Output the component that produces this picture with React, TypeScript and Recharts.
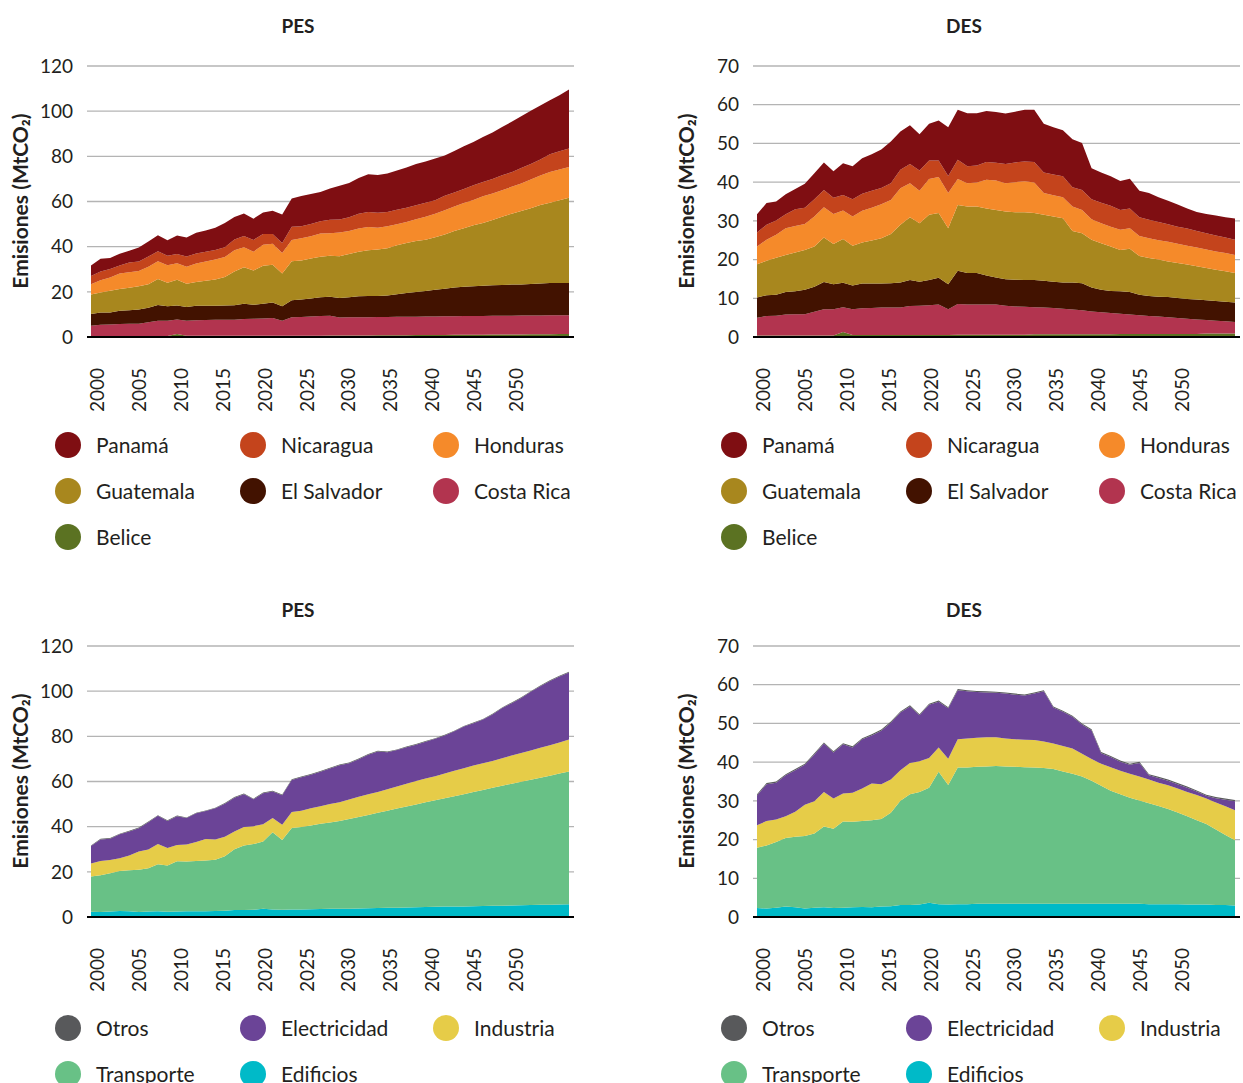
import React from "react";
import { AreaChart, Area, XAxis, YAxis, CartesianGrid } from "recharts";

const years = [
  2000, 2001, 2002, 2003, 2004, 2005, 2006, 2007, 2008, 2009, 2010, 2011, 2012, 2013, 2014, 2015, 2016,
  2017, 2018, 2019, 2020, 2021, 2022, 2023, 2024, 2025, 2026, 2027, 2028, 2029, 2030, 2031, 2032, 2033,
  2034, 2035, 2036, 2037, 2038, 2039, 2040, 2041, 2042, 2043, 2044, 2045, 2046, 2047, 2048, 2049, 2050,
];
const labelYears = [2000, 2005, 2010, 2015, 2020, 2025, 2030, 2035, 2040, 2045, 2050];

// historical 2000-2020, by country (MtCO2)
const histBelice = [0.4, 0.4, 0.4, 0.4, 0.4, 0.4, 0.4, 0.4, 0.4, 1.3, 0.5, 0.5, 0.5, 0.5, 0.5, 0.5, 0.5, 0.5, 0.5, 0.5, 0.5];
const histCostaRica = [4.6, 5.0, 5.1, 5.4, 5.5, 5.5, 6.1, 6.8, 6.8, 6.4, 6.7, 6.9, 7.0, 7.1, 7.1, 7.1, 7.5, 7.6, 7.7, 7.9, 6.7];
const histElSalvador = [5.2, 5.4, 5.4, 5.8, 5.9, 6.3, 6.5, 7.0, 6.4, 6.3, 6.1, 6.4, 6.3, 6.2, 6.3, 6.5, 6.7, 6.2, 6.5, 6.9, 6.4];
const histGuatemala = [8.6, 8.9, 9.6, 9.6, 10.0, 10.3, 10.4, 11.5, 10.4, 11.3, 10.3, 10.6, 11.1, 11.7, 12.7, 14.9, 16.2, 15.1, 16.9, 16.7, 14.5];
const histHonduras = [4.6, 5.4, 5.9, 6.9, 6.9, 6.7, 7.7, 7.8, 7.8, 7.4, 7.5, 8.2, 8.5, 8.8, 8.8, 9.4, 8.8, 8.4, 9.2, 9.3, 9.1];
const histNicaragua = [3.6, 3.9, 3.7, 3.6, 4.3, 4.2, 4.5, 4.5, 4.2, 4.0, 4.5, 4.4, 4.4, 4.2, 4.3, 4.8, 5.0, 5.2, 4.8, 4.3, 4.4];
const histPanama = [4.7, 5.6, 4.9, 5.2, 5.2, 6.2, 6.7, 7.1, 6.8, 8.2, 8.5, 9.2, 9.4, 9.9, 10.8, 9.9, 10.0, 9.4, 9.5, 10.3, 12.6];

// PES 2021-2050, by country
const pesBelice = [0.6, 0.6, 0.6, 0.6, 0.7, 0.7, 0.7, 0.7, 0.7, 0.8, 0.8, 0.8, 0.8, 0.9, 0.9, 0.9, 0.9, 1.0, 1.0, 1.0, 1.0, 1.1, 1.1, 1.1, 1.1, 1.2, 1.2, 1.2, 1.3, 1.3];
const pesCostaRica = [8.2, 8.3, 8.5, 8.7, 8.7, 7.9, 8.0, 8.1, 8.1, 8.1, 8.1, 8.2, 8.2, 8.1, 8.2, 8.2, 8.3, 8.2, 8.3, 8.3, 8.3, 8.3, 8.3, 8.3, 8.4, 8.3, 8.3, 8.4, 8.3, 8.3];
const pesElSalvador = [7.5, 7.7, 8.0, 8.3, 8.4, 8.7, 8.9, 9.2, 9.3, 9.3, 9.5, 9.9, 10.5, 10.9, 11.3, 11.8, 12.2, 12.7, 12.9, 13.2, 13.4, 13.5, 13.6, 13.8, 13.8, 14.0, 14.2, 14.3, 14.3, 14.3];
const pesGuatemala = [17.2, 17.3, 17.7, 17.9, 18.2, 18.5, 19.2, 19.7, 20.3, 20.6, 20.9, 21.7, 22.1, 22.6, 22.7, 23.3, 24.0, 25.0, 26.0, 27.0, 27.8, 28.9, 30.3, 31.4, 32.5, 33.5, 34.7, 35.5, 36.6, 37.8];
const pesHonduras = [9.5, 9.8, 9.8, 10.3, 9.9, 10.5, 10.1, 10.3, 10.3, 9.6, 9.7, 9.3, 9.3, 9.6, 10.1, 10.4, 10.7, 10.9, 11.1, 11.2, 11.8, 11.7, 11.7, 11.9, 12.2, 12.7, 13.1, 13.7, 13.7, 13.6];
const pesNicaragua = [5.8, 5.3, 5.4, 5.4, 6.0, 5.7, 6.1, 6.6, 6.7, 6.6, 6.4, 6.4, 6.3, 6.2, 6.2, 6.0, 6.4, 6.2, 6.2, 6.5, 6.3, 6.5, 6.6, 6.5, 6.8, 6.9, 7.1, 7.8, 8.0, 8.2];
const pesPanama = [12.5, 13.4, 13.3, 13.0, 13.9, 15.0, 15.2, 15.8, 16.7, 16.7, 17.0, 17.4, 17.9, 18.3, 18.3, 18.4, 17.9, 18.4, 19.0, 19.2, 20.0, 20.6, 21.4, 22.3, 22.9, 23.6, 23.9, 23.9, 24.8, 26.1];

// DES 2021-2050, by country
const desBelice = [0.6, 0.6, 0.6, 0.6, 0.6, 0.6, 0.6, 0.6, 0.7, 0.7, 0.7, 0.7, 0.7, 0.7, 0.7, 0.7, 0.7, 0.8, 0.8, 0.8, 0.8, 0.8, 0.8, 0.8, 0.8, 0.8, 0.9, 0.9, 0.9, 0.9];
const desCostaRica = [7.9, 7.8, 7.8, 7.8, 7.8, 7.5, 7.3, 7.2, 7.0, 6.9, 6.8, 6.6, 6.4, 6.2, 5.9, 5.7, 5.5, 5.2, 5.0, 4.8, 4.6, 4.5, 4.3, 4.1, 3.9, 3.7, 3.5, 3.3, 3.2, 3.0];
const desElSalvador = [8.6, 8.1, 8.1, 7.5, 7.0, 6.8, 6.9, 6.9, 7.0, 6.9, 6.8, 6.8, 7.0, 7.0, 6.2, 5.8, 5.7, 5.8, 5.8, 5.3, 5.2, 5.1, 5.2, 5.2, 5.1, 5.2, 5.1, 5.1, 5.0, 5.0];
const desGuatemala = [17.0, 17.2, 17.2, 17.3, 17.4, 17.5, 17.4, 17.5, 17.3, 17.1, 16.8, 16.6, 13.3, 12.9, 12.3, 12.0, 11.5, 10.7, 11.2, 10.0, 9.8, 9.6, 9.2, 9.0, 8.9, 8.6, 8.3, 8.1, 7.9, 7.6];
const desHonduras = [6.7, 6.0, 6.2, 7.4, 7.6, 7.3, 7.8, 8.0, 7.9, 5.6, 5.5, 5.4, 6.3, 6.0, 5.3, 5.2, 5.1, 5.2, 5.3, 5.2, 5.1, 5.0, 5.1, 5.0, 4.9, 4.8, 4.8, 4.7, 4.7, 4.7];
const desNicaragua = [5.0, 4.4, 4.4, 4.6, 4.6, 5.0, 5.1, 5.1, 5.3, 5.3, 5.4, 5.4, 5.0, 5.2, 5.2, 5.3, 5.4, 5.1, 5.1, 4.8, 4.8, 4.7, 4.5, 4.4, 4.4, 4.3, 4.2, 4.1, 4.0, 3.9];
const desPanama = [12.9, 13.7, 13.5, 13.2, 13.1, 13.0, 13.1, 13.4, 13.5, 12.6, 12.2, 11.9, 12.4, 12.1, 8.0, 7.8, 7.6, 7.5, 7.7, 6.9, 6.9, 6.4, 6.1, 5.7, 5.2, 4.9, 5.0, 5.2, 5.2, 5.5];

// historical 2000-2020, by sector
const histEdificios = [2.3, 2.2, 2.4, 2.7, 2.5, 2.2, 2.4, 2.5, 2.3, 2.4, 2.5, 2.6, 2.5, 2.7, 2.8, 3.1, 3.1, 3.2, 3.7, 3.3, 3.2];
const histTransporte = [15.6, 16.3, 17.0, 17.7, 18.2, 18.7, 19.2, 20.9, 20.5, 22.3, 22.1, 22.2, 22.5, 22.6, 24.1, 26.9, 28.6, 29.1, 29.7, 34.2, 30.9];
const histIndustria = [5.8, 6.3, 5.8, 5.6, 6.5, 8.1, 8.3, 8.9, 7.8, 7.2, 7.5, 8.4, 9.5, 9.0, 8.6, 7.9, 8.1, 7.9, 7.7, 6.3, 6.8];
const histElectricidad = [7.7, 9.5, 9.5, 10.6, 10.7, 10.3, 12.1, 12.5, 11.9, 12.7, 11.7, 12.7, 12.4, 13.8, 14.7, 14.9, 14.6, 11.9, 13.7, 11.8, 13.0];
const histOtros = [0.3, 0.3, 0.3, 0.3, 0.3, 0.3, 0.3, 0.3, 0.3, 0.3, 0.3, 0.3, 0.3, 0.3, 0.3, 0.3, 0.3, 0.3, 0.3, 0.3, 0.3];

// PES 2021-2050, by sector
const pesEdificios = [3.3, 3.3, 3.4, 3.5, 3.6, 3.7, 3.7, 3.8, 3.9, 4.0, 4.1, 4.1, 4.2, 4.3, 4.4, 4.5, 4.6, 4.6, 4.7, 4.8, 4.9, 5.0, 5.0, 5.1, 5.2, 5.3, 5.4, 5.4, 5.5, 5.6];
const pesTransporte = [36.1, 36.6, 37.1, 37.8, 38.3, 38.8, 39.7, 40.5, 41.3, 42.2, 43.0, 43.9, 44.7, 45.5, 46.4, 47.2, 48.0, 48.9, 49.7, 50.5, 51.3, 52.2, 53.1, 53.9, 54.7, 55.5, 56.3, 57.2, 58.0, 58.8];
const pesIndustria = [7.1, 7.1, 7.6, 7.7, 8.1, 8.3, 8.6, 8.9, 9.1, 9.2, 9.5, 9.8, 10.1, 10.4, 10.5, 10.6, 10.9, 11.3, 11.5, 11.8, 11.9, 11.9, 12.2, 12.5, 12.7, 12.9, 13.2, 13.5, 13.8, 14.2];
const pesElectricidad = [14.2, 14.9, 14.9, 15.3, 15.8, 16.4, 16.1, 16.7, 17.6, 17.9, 16.4, 16.1, 16.2, 16.1, 16.3, 16.6, 16.9, 17.4, 18.4, 18.7, 19.3, 20.6, 22.2, 23.2, 24.4, 26.0, 27.3, 28.4, 29.2, 29.7];
const pesOtros = [0.3, 0.3, 0.3, 0.3, 0.3, 0.3, 0.3, 0.3, 0.3, 0.3, 0.3, 0.3, 0.3, 0.3, 0.3, 0.3, 0.3, 0.3, 0.3, 0.3, 0.3, 0.3, 0.3, 0.3, 0.3, 0.3, 0.3, 0.3, 0.3, 0.3];

// DES 2021-2050, by sector
const desEdificios = [3.3, 3.3, 3.4, 3.4, 3.4, 3.4, 3.4, 3.4, 3.4, 3.4, 3.4, 3.4, 3.4, 3.4, 3.4, 3.4, 3.4, 3.4, 3.4, 3.4, 3.3, 3.3, 3.3, 3.3, 3.2, 3.2, 3.2, 3.1, 3.1, 3.0];
const desTransporte = [35.3, 35.3, 35.4, 35.5, 35.6, 35.5, 35.4, 35.3, 35.2, 35.1, 34.8, 34.2, 33.6, 32.9, 31.8, 30.5, 29.2, 28.3, 27.4, 26.7, 26.1, 25.4, 24.6, 23.7, 22.8, 21.8, 20.8, 19.5, 18.1, 16.8];
const desIndustria = [7.3, 7.5, 7.5, 7.5, 7.4, 7.2, 7.1, 7.1, 7.1, 6.8, 6.6, 6.6, 6.5, 5.9, 5.6, 5.7, 6.1, 6.1, 6.2, 6.2, 6.1, 6.0, 6.1, 6.2, 6.3, 6.5, 6.6, 7.0, 7.4, 7.8];
const desElectricidad = [12.7, 12.2, 11.8, 11.6, 11.5, 11.6, 11.5, 11.4, 12.0, 13.0, 9.3, 8.8, 8.2, 7.5, 7.4, 2.7, 2.6, 2.3, 2.3, 3.5, 1.1, 1.2, 1.2, 1.1, 1.1, 0.9, 0.7, 1.1, 1.7, 2.3];
const desOtros = [0.3, 0.3, 0.3, 0.3, 0.3, 0.3, 0.3, 0.3, 0.3, 0.3, 0.3, 0.3, 0.3, 0.3, 0.3, 0.3, 0.3, 0.3, 0.3, 0.3, 0.3, 0.3, 0.3, 0.3, 0.3, 0.3, 0.3, 0.3, 0.3, 0.3];

const yTicks120 = [0, 20, 40, 60, 80, 100, 120];
const yTicks70 = [0, 10, 20, 30, 40, 50, 60, 70];

const FONT = "Lato, 'Open Sans', sans-serif";
const TEXT = "#231f20";

type Series = { key: string; name: string; color: string; values: number[] };

const join = (a: number[], b: number[]) => [...a, ...b];

// stacking order: first = bottom
const pesCountries: Series[] = [
  { key: "belice", name: "Belice", color: "#5b7222", values: join(histBelice, pesBelice) },
  { key: "costaRica", name: "Costa Rica", color: "#b2344f", values: join(histCostaRica, pesCostaRica) },
  { key: "elSalvador", name: "El Salvador", color: "#421200", values: join(histElSalvador, pesElSalvador) },
  { key: "guatemala", name: "Guatemala", color: "#a8871e", values: join(histGuatemala, pesGuatemala) },
  { key: "honduras", name: "Honduras", color: "#f58a2a", values: join(histHonduras, pesHonduras) },
  { key: "nicaragua", name: "Nicaragua", color: "#c4441c", values: join(histNicaragua, pesNicaragua) },
  { key: "panama", name: "Panamá", color: "#7f0e12", values: join(histPanama, pesPanama) },
];
const desCountries: Series[] = [
  { key: "belice", name: "Belice", color: "#5b7222", values: join(histBelice, desBelice) },
  { key: "costaRica", name: "Costa Rica", color: "#b2344f", values: join(histCostaRica, desCostaRica) },
  { key: "elSalvador", name: "El Salvador", color: "#421200", values: join(histElSalvador, desElSalvador) },
  { key: "guatemala", name: "Guatemala", color: "#a8871e", values: join(histGuatemala, desGuatemala) },
  { key: "honduras", name: "Honduras", color: "#f58a2a", values: join(histHonduras, desHonduras) },
  { key: "nicaragua", name: "Nicaragua", color: "#c4441c", values: join(histNicaragua, desNicaragua) },
  { key: "panama", name: "Panamá", color: "#7f0e12", values: join(histPanama, desPanama) },
];
const pesSectors: Series[] = [
  { key: "edificios", name: "Edificios", color: "#00bac8", values: join(histEdificios, pesEdificios) },
  { key: "transporte", name: "Transporte", color: "#68c186", values: join(histTransporte, pesTransporte) },
  { key: "industria", name: "Industria", color: "#e6cc48", values: join(histIndustria, pesIndustria) },
  { key: "electricidad", name: "Electricidad", color: "#6b4497", values: join(histElectricidad, pesElectricidad) },
  { key: "otros", name: "Otros", color: "#58595b", values: join(histOtros, pesOtros) },
];
const desSectors: Series[] = [
  { key: "edificios", name: "Edificios", color: "#00bac8", values: join(histEdificios, desEdificios) },
  { key: "transporte", name: "Transporte", color: "#68c186", values: join(histTransporte, desTransporte) },
  { key: "industria", name: "Industria", color: "#e6cc48", values: join(histIndustria, desIndustria) },
  { key: "electricidad", name: "Electricidad", color: "#6b4497", values: join(histElectricidad, desElectricidad) },
  { key: "otros", name: "Otros", color: "#58595b", values: join(histOtros, desOtros) },
];

const toRows = (series: Series[]) =>
  years.map((year, i) => {
    const row: Record<string, number> = { year };
    series.forEach((s) => (row[s.key] = s.values[i]));
    return row;
  });

const YearTick = (props: any) => {
  const { x, y, payload } = props;
  const ty = y + 31;
  return (
    <text
      x={x}
      y={ty}
      transform={`rotate(-90 ${x} ${ty})`}
      textAnchor="end"
      dominantBaseline="central"
      fontSize={19}
      fill={TEXT}
    >
      {payload.value}
    </text>
  );
};

type PanelProps = {
  left: number;
  top: number;
  width: number;
  title: string;
  titleY: number;
  yMax: number;
  yTicks: number[];
  series: Series[];
  legendTop: number;
};

const legendCols = [68, 253, 446];

const Panel = ({ left, top, width, title, titleY, yMax, yTicks, series, legendTop }: PanelProps) => {
  const rows = toRows(series);
  const legend = [...series].reverse();
  return (
    <>
      <div
        style={{
          position: "absolute",
          left: left + 198,
          top: titleY - 12,
          width: 200,
          height: 24,
          lineHeight: "24px",
          textAlign: "center",
          fontSize: 19,
          fontWeight: 700,
          color: TEXT,
        }}
      >
        {title}
      </div>
      <div
        style={{
          position: "absolute",
          left: left + 20 - 150,
          top: top + 161 - 13,
          width: 300,
          height: 26,
          lineHeight: "26px",
          textAlign: "center",
          transform: "rotate(-90deg)",
          fontSize: 21,
          fontWeight: 700,
          color: TEXT,
        }}
      >
        Emisiones (MtCO₂)
      </div>
      <div style={{ position: "absolute", left, top }}>
        <AreaChart width={width} height={390} data={rows} margin={{ top: 26, right: width - 574, bottom: 13, left: 0 }}>
          <CartesianGrid vertical={false} stroke="#b4b4b4" strokeWidth={1.3} />
          <XAxis
            xAxisId="lbl"
            dataKey="year"
            type="number"
            domain={[1999.3, 2056.4]}
            allowDataOverflow
            ticks={labelYears}
            interval={0}
            padding={{ left: 4, right: 5 }}
            height={80}
            tickLine={false}
            tickSize={0}
            tickMargin={0}
            axisLine={{ stroke: "#000", strokeWidth: 2 }}
            tick={<YearTick />}
          />
          <XAxis dataKey="year" type="number" domain={[2000, 2050]} padding={{ left: 4, right: 5 }} height={0} hide />
          <YAxis
            type="number"
            domain={[0, yMax]}
            ticks={yTicks}
            interval={0}
            width={87}
            tickLine={false}
            axisLine={false}
            tickMargin={8}
            tick={{ fontSize: 19, fill: TEXT }}
          />
          {series.map((s) => (
            <Area
              key={s.key}
              dataKey={s.key}
              name={s.name}
              stackId="a"
              type="linear"
              stroke="none"
              fill={s.color}
              fillOpacity={1}
              isAnimationActive={false}
            />
          ))}
        </AreaChart>
      </div>
      {legend.map((s, i) => {
        const cx = left + legendCols[i % 3];
        const cy = legendTop + Math.floor(i / 3) * 46;
        return (
          <div key={s.key}>
            <div
              style={{
                position: "absolute",
                left: cx - 13,
                top: cy - 13,
                width: 26,
                height: 26,
                borderRadius: "50%",
                background: s.color,
              }}
            />
            <div
              style={{
                position: "absolute",
                left: cx + 28,
                top: cy - 14,
                height: 28,
                lineHeight: "28px",
                fontSize: 21,
                color: TEXT,
                whiteSpace: "nowrap",
              }}
            >
              {s.name}
            </div>
          </div>
        );
      })}
    </>
  );
};

const App = () => (
  <div
    style={{
      position: "absolute",
      left: 0,
      top: 0,
      width: 1243,
      height: 1083,
      overflow: "hidden",
      background: "#fff",
      fontFamily: FONT,
    }}
  >
    <Panel left={0} top={40} width={600} title="PES" titleY={26} yMax={120} yTicks={yTicks120} series={pesCountries} legendTop={445} />
    <Panel left={666} top={40} width={577} title="DES" titleY={26} yMax={70} yTicks={yTicks70} series={desCountries} legendTop={445} />
    <Panel left={0} top={620} width={600} title="PES" titleY={610} yMax={120} yTicks={yTicks120} series={pesSectors} legendTop={1028} />
    <Panel left={666} top={620} width={577} title="DES" titleY={610} yMax={70} yTicks={yTicks70} series={desSectors} legendTop={1028} />
  </div>
);

export default App;
